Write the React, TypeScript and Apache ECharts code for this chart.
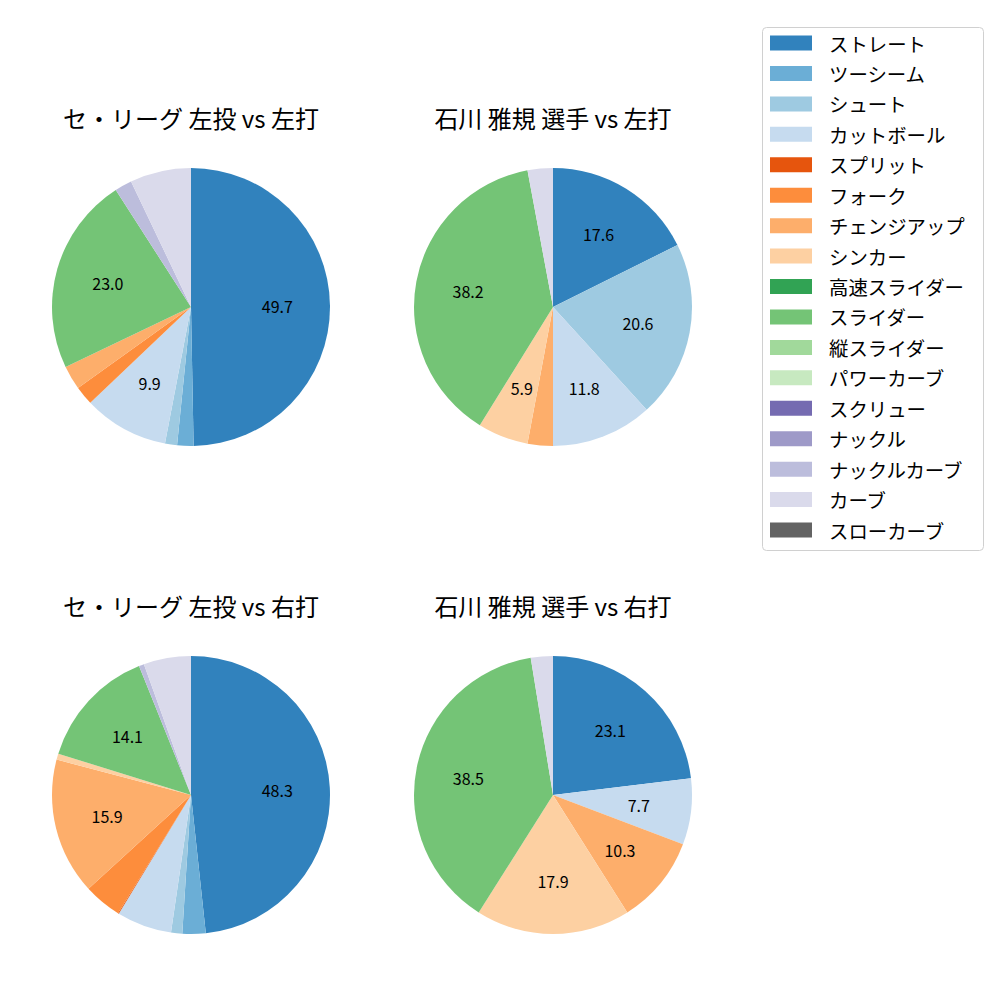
import React, { useEffect, useRef } from "react";
import * as echarts from "echarts";

const pitchTypes = [
  "ストレート", "ツーシーム", "シュート", "カットボール", "スプリット", "フォーク",
  "チェンジアップ", "シンカー", "高速スライダー", "スライダー", "縦スライダー",
  "パワーカーブ", "スクリュー", "ナックル", "ナックルカーブ", "カーブ", "スローカーブ",
];
const pitchColors = [
  "#3182bd", "#6baed6", "#9ecae1", "#c6dbef", "#e6550d", "#fd8d3c",
  "#fdae6b", "#fdd0a2", "#31a354", "#74c476", "#a1d99b",
  "#c7e9c0", "#756bb1", "#9e9ac8", "#bcbddc", "#dadaeb", "#636363",
];

// shares (league, %) and counts (player)
const leagueVsLeft = [49.7, 1.9, 1.4, 9.9, 0, 2.2, 2.8, 0, 0, 23.0, 0, 0, 0, 0, 2.0, 7.1, 0];
const ishikawaVsLeft = [6, 0, 7, 4, 0, 0, 1, 2, 0, 13, 0, 0, 0, 0, 0, 1, 0];
const leagueVsRight = [48.3, 2.7, 1.3, 6.4, 0.1, 4.4, 15.9, 0.7, 0, 14.1, 0, 0, 0, 0, 0.6, 5.5, 0];
const ishikawaVsRight = [9, 0, 0, 3, 0, 0, 4, 7, 0, 15, 0, 0, 0, 0, 0, 1, 0];

const panelTitles = [
  "セ・リーグ 左投 vs 左打",
  "石川 雅規 選手 vs 左打",
  "セ・リーグ 左投 vs 右打",
  "石川 雅規 選手 vs 右打",
];

const FONT = "'Noto Sans CJK JP', 'Noto Sans', sans-serif";

export default function App() {
  const ref = useRef<HTMLDivElement>(null);
  useEffect(() => {
    if (!ref.current) return;
    const chart = echarts.init(ref.current, undefined, { renderer: "svg" });
    const panels = [
      { values: leagueVsLeft, cx: 191, cy: 307, thr: 8 },
      { values: ishikawaVsLeft, cx: 553, cy: 307, thr: 5 },
      { values: leagueVsRight, cx: 191, cy: 795, thr: 8 },
      { values: ishikawaVsRight, cx: 553, cy: 795, thr: 5 },
    ];
    const R = 139;
    const series: any[] = [];
    panels.forEach((p) => {
      const sum = p.values.reduce((a, b) => a + b, 0);
      series.push({
        type: "pie",
        center: [p.cx, p.cy],
        radius: [0, R],
        startAngle: 90,
        clockwise: true,
        silent: true,
        label: { show: false },
        labelLine: { show: false },
        emphasis: { disabled: true },
        data: pitchTypes.map((n, i) => ({
          name: n,
          value: p.values[i],
          itemStyle: { color: pitchColors[i], borderWidth: 0 },
        })),
      });
      series.push({
        type: "pie",
        center: [p.cx, p.cy],
        radius: [R * 0.2, R],
        startAngle: 90,
        clockwise: true,
        silent: true,
        legendHoverLink: false,
        labelLine: { show: false },
        emphasis: { disabled: true },
        z: 3,
        data: pitchTypes.map((n, i) => {
          const pct = (p.values[i] / sum) * 100;
          return {
            name: n,
            value: p.values[i],
            itemStyle: { color: "rgba(0,0,0,0)", borderWidth: 0 },
            label: {
              show: pct >= p.thr,
              position: "inside",
              formatter: pct.toFixed(1),
              color: "#000",
              fontSize: 16,
              fontFamily: FONT,
            },
          };
        }),
      });
    });

    const titleGraphics = panelTitles.map((t, i) => ({
      type: "text",
      x: panels[i].cx,
      y: i < 2 ? 117 : 605,
      style: {
        text: t,
        fontSize: 24,
        fontFamily: FONT,
        fill: "#000",
        textAlign: "center",
        textVerticalAlign: "middle",
      },
    }));

    chart.setOption({
      animation: false,
      backgroundColor: "#fff",
      legend: {
        orient: "vertical",
        left: 770,
        top: 33,
        padding: 0,
        itemWidth: 42,
        itemHeight: 15,
        itemGap: 10.44,
        icon: "rect",
        selectedMode: false,
        data: pitchTypes,
        textStyle: {
          fontSize: 19.4,
          lineHeight: 20,
          fontFamily: FONT,
          color: "#000",
          padding: [0, 0, 0, 12],
        },
      },
      graphic: [
        {
          type: "rect",
          z: -1,
          shape: { x: 762.5, y: 27.5, width: 221, height: 523, r: 4 },
          style: { fill: "#fff", stroke: "#d0d0d0", lineWidth: 1 },
        },
        ...titleGraphics,
      ],
      series,
    });
    return () => chart.dispose();
  }, []);
  return (
    <div
      ref={ref}
      style={{ position: "absolute", left: 0, top: 0, width: 1000, height: 1000 }}
    />
  );
}
